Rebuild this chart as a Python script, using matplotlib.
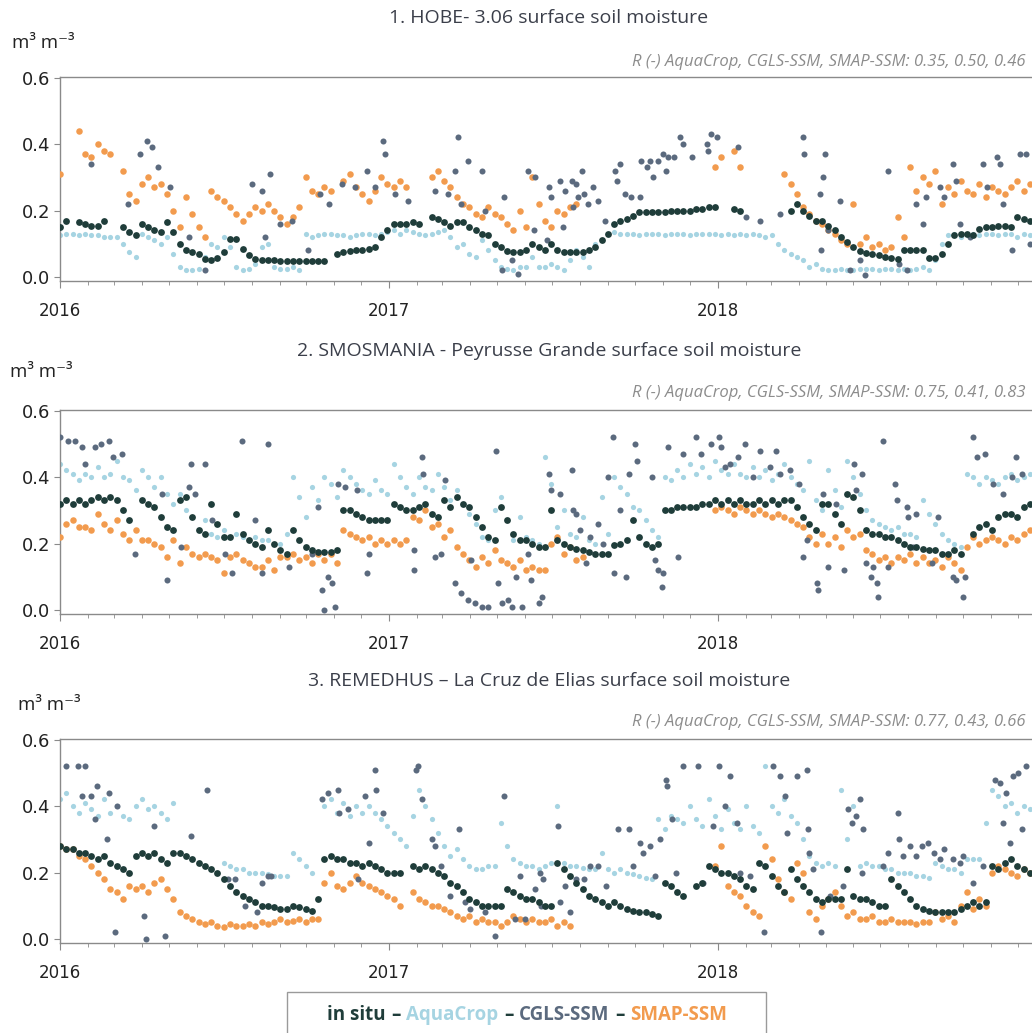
import numpy as np
import pandas as pd
import matplotlib
matplotlib.use('Agg')
import matplotlib.pyplot as plt
import matplotlib.dates as mdates
from matplotlib.offsetbox import TextArea, HPacker, AnchoredOffsetbox
from matplotlib.patches import Rectangle

nan = np.nan

# weekly samples, starting 2016-01-01
weeks = pd.date_range('2016-01-01', periods=155, freq='7D')
start = pd.Timestamp('2016-01-01')

# ---------- 1. HOBE ----------
p1_insitu = [0.15, 0.17, nan, 0.165, 0.16, 0.155, 0.155, 0.17, nan, nan,
             0.15, 0.135, 0.125, 0.16, 0.15, 0.14, 0.135, 0.165, 0.135, 0.10,
             0.08, 0.075, 0.07, 0.055, 0.05, 0.056, 0.075, 0.115, 0.115, 0.085,
             0.065, 0.055, 0.052, 0.05, 0.05, 0.048, 0.048, 0.048, 0.048, 0.048,
             0.048, 0.048, 0.048, nan, 0.07, 0.075, 0.078, 0.08, 0.082, 0.085,
             0.09, 0.12, 0.14, 0.16, 0.16, 0.16, 0.165, 0.16, nan, 0.18,
             0.175, 0.165, 0.155, 0.165, 0.165, 0.15, 0.14, 0.13, 0.125, 0.10,
             0.09, 0.078, 0.075, 0.075, 0.08, 0.10, 0.09, 0.08, 0.10, 0.08,
             0.075, 0.075, 0.075, 0.075, 0.08, 0.09, 0.11, 0.13, 0.16, 0.17,
             0.175, 0.185, 0.195, 0.195, 0.195, 0.195, 0.195, 0.20, 0.20, 0.20,
             0.20, 0.205, 0.205, 0.21, 0.21, nan, nan, 0.205, 0.20, nan,
             nan, nan, nan, nan, nan, nan, 0.20, 0.22, 0.20, 0.185,
             0.17, 0.17, 0.155, 0.14, 0.12, 0.105, 0.09, 0.078, 0.072, 0.07,
             0.065, 0.06, 0.057, 0.055, 0.08, 0.08, 0.08, 0.08, 0.058, 0.058,
             0.07, 0.10, 0.125, 0.13, 0.13, 0.125, 0.145, 0.15, 0.15, 0.155,
             0.155, 0.15, 0.18, 0.175, 0.17]
p1_aqua = [0.125, 0.13, 0.13, 0.125, 0.13, 0.125, 0.125, 0.12, 0.12, 0.12,
           0.10, 0.075, 0.06, 0.13, 0.12, 0.11, 0.10, 0.12, 0.07, 0.03,
           0.02, 0.02, 0.025, 0.06, 0.10, 0.09, 0.12, 0.09, 0.03, 0.02,
           0.025, 0.04, 0.09, 0.10, 0.03, 0.025, 0.025, 0.03, 0.02, 0.13,
           0.12, 0.125, 0.13, 0.13, 0.125, 0.125, 0.12, 0.125, 0.13, 0.13,
           0.125, 0.13, 0.135, 0.14, 0.13, 0.14, 0.135, 0.13, 0.125, 0.13,
           0.135, 0.14, 0.12, 0.09, 0.10, 0.07, 0.06, 0.11, 0.08, 0.05,
           0.03, 0.025, 0.02, 0.03, 0.03, 0.06, 0.03, 0.03, 0.04, 0.03,
           0.02, 0.05, 0.08, 0.06, 0.03, 0.10, 0.11, 0.13, 0.135, 0.13,
           0.13, 0.13, 0.125, 0.13, 0.13, 0.13, 0.125, 0.13, 0.13, 0.13,
           0.125, 0.13, 0.13, 0.13, 0.13, 0.125, 0.13, 0.125, 0.13, 0.125,
           0.13, 0.125, 0.12, 0.125, 0.10, 0.08, 0.07, 0.06, 0.05, 0.03,
           0.04, 0.025, 0.02, 0.02, 0.025, 0.02, 0.02, 0.025, 0.025, 0.025,
           0.02, 0.025, 0.025, 0.02, 0.025, 0.02, 0.025, 0.03, 0.02, 0.05,
           0.10, 0.125, 0.13, 0.12, 0.13, 0.13, 0.125, 0.13, 0.13, 0.125,
           0.13, 0.13, 0.12, 0.13, 0.125]
p1_smap = [0.31, nan, nan, 0.44, 0.37, 0.36, 0.40, 0.38, 0.37, nan,
           0.32, 0.25, 0.23, 0.28, 0.30, 0.27, 0.28, 0.25, 0.20, 0.15,
           0.24, 0.19, 0.15, 0.12, 0.26, 0.24, 0.23, 0.21, 0.19, 0.17,
           0.19, 0.21, 0.20, 0.22, 0.20, 0.18, 0.16, 0.18, 0.21, 0.30,
           0.26, 0.25, 0.27, 0.26, nan, 0.29, 0.31, 0.27, 0.25, 0.23,
           0.26, 0.30, 0.28, 0.27, 0.29, 0.27, nan, nan, nan, 0.30,
           0.32, 0.29, 0.27, 0.24, 0.22, 0.21, 0.19, 0.18, 0.21, 0.19,
           0.18, 0.16, 0.14, 0.20, 0.15, 0.30, 0.22, 0.17, 0.15, 0.20,
           0.19, 0.21, 0.22, nan, nan, nan, nan, nan, nan, nan,
           nan, nan, nan, nan, nan, nan, nan, nan, nan, nan,
           nan, nan, nan, nan, 0.33, 0.36, nan, 0.38, 0.33, nan,
           nan, nan, nan, nan, nan, 0.31, 0.28, 0.25, 0.21, 0.19,
           0.17, 0.16, 0.14, 0.13, 0.11, 0.10, 0.22, 0.10, 0.12, 0.09,
           0.10, 0.08, 0.09, 0.18, 0.12, 0.33, 0.26, 0.30, 0.28, 0.32,
           0.22, 0.27, 0.25, 0.29, 0.26, 0.25, 0.28, 0.24, 0.27, 0.26,
           0.25, 0.27, 0.29, 0.26, 0.28]
p1_cgls_day = [35, 76, 89, 97, 102, 109, 122, 143, 161, 213, 224, 228, 233, 244,
               258, 276, 289, 299, 313, 328, 341, 350, 359, 361, 372, 387, 417,
               431, 439, 442, 446, 454, 469, 472, 491, 494, 502, 509, 520, 527,
               528, 541, 543, 546, 556, 559, 561, 569, 570, 574, 576, 580, 582,
               587, 593, 598, 606, 617, 619, 622, 628, 635, 645, 646, 652, 656,
               659, 665, 670, 674, 676, 682, 689, 693, 702, 719, 720, 724, 730,
               754, 763, 778, 800, 826, 827, 845, 846, 848, 850, 854, 867, 878,
               889, 895, 920, 933, 941, 952, 959, 963, 978, 983, 993, 996, 1000,
               1011, 1026, 1030, 1041, 1045, 1048, 1058, 1067, 1074, 1078]
p1_cgls = [0.34, 0.22, 0.37, 0.41, 0.39, 0.33, 0.27, 0.12, 0.02, 0.28, 0.26, 0.12,
           0.31, 0.16, 0.17, 0.08, 0.25, 0.22, 0.28, 0.27, 0.32, 0.27, 0.41, 0.37,
           0.25, 0.23, 0.26, 0.25, 0.32, 0.42, 0.22, 0.35, 0.32, 0.20, 0.02, 0.24,
           0.05, 0.01, 0.32, 0.14, 0.30, 0.11, 0.27, 0.24, 0.29, 0.15, 0.26, 0.29,
           0.21, 0.28, 0.24, 0.32, 0.25, 0.22, 0.27, 0.23, 0.17, 0.32, 0.29, 0.34,
           0.25, 0.24, 0.24, 0.35, 0.33, 0.35, 0.30, 0.35, 0.37, 0.32, 0.36, 0.36,
           0.42, 0.40, 0.36, 0.40, 0.38, 0.43, 0.42, 0.39, 0.18, 0.17, 0.19, 0.42,
           0.37, 0.25, 0.08, 0.30, 0.37, 0.14, 0.23, 0.02, 0.05, 0.005, 0.32, 0.04,
           0.02, 0.22, 0.16, 0.24, 0.27, 0.24, 0.34, 0.29, 0.16, 0.12, 0.34, 0.27,
           0.36, 0.34, 0.22, 0.08, 0.37, 0.37, 0.10]

# ---------- 2. SMOSMANIA ----------
p2_insitu = [0.32, 0.33, 0.32, 0.33, 0.32, 0.33, 0.34, 0.33, 0.34, 0.33,
             0.30, 0.27, nan, 0.33, 0.32, 0.31, 0.28, 0.25, 0.24, 0.33,
             0.34, 0.28, 0.24, 0.23, 0.32, 0.26, 0.22, 0.22, 0.29, 0.23,
             0.21, 0.20, 0.19, 0.24, 0.20, 0.18, 0.17, 0.24, 0.21, 0.19,
             0.18, 0.175, 0.175, 0.175, 0.18, 0.30, 0.30, 0.29, 0.28, 0.27,
             0.27, 0.27, 0.27, 0.32, 0.31, 0.30, 0.30, 0.31, 0.32, 0.29,
             0.28, 0.33, 0.31, 0.34, 0.32, 0.31, 0.28, 0.25, 0.22, 0.21,
             0.31, 0.27, 0.23, 0.21, 0.21, 0.20, 0.19, 0.19, 0.30, 0.21,
             0.20, 0.19, 0.185, 0.18, 0.175, 0.17, 0.17, 0.17, 0.195, 0.20,
             0.21, 0.27, 0.22, 0.20, 0.19, 0.20, 0.30, 0.30, 0.31, 0.31,
             0.31, 0.31, 0.32, 0.32, 0.33, 0.32, 0.33, 0.32, 0.33, 0.32,
             0.32, 0.33, 0.32, 0.33, 0.32, 0.33, 0.33, 0.31, 0.28, 0.26,
             0.24, 0.32, 0.32, 0.29, 0.26, 0.35, 0.34, 0.30, 0.24, 0.23,
             0.23, 0.22, 0.22, 0.21, 0.20, 0.19, 0.19, 0.185, 0.18, 0.18,
             0.17, 0.17, 0.18, 0.17, nan, 0.23, 0.25, 0.26, 0.24, 0.28,
             0.29, 0.29, 0.28, 0.31, 0.32]
p2_aqua = [0.44, 0.42, 0.41, 0.39, 0.41, 0.40, 0.43, 0.40, 0.41, 0.45,
           0.40, 0.39, 0.36, 0.42, 0.40, 0.37, 0.40, 0.35, 0.32, 0.35,
           0.30, 0.28, 0.24, 0.27, 0.23, 0.22, 0.24, 0.22, 0.23, 0.22,
           0.21, 0.22, 0.21, 0.21, 0.20, 0.20, 0.23, 0.40, 0.34, 0.28,
           0.37, 0.33, 0.40, 0.38, 0.34, 0.42, 0.40, 0.38, 0.36, 0.35,
           0.39, 0.36, 0.35, 0.44, 0.40, 0.37, 0.35, 0.40, 0.37, 0.36,
           0.41, 0.37, 0.33, 0.36, 0.32, 0.29, 0.26, 0.22, 0.21, 0.30,
           0.34, 0.27, 0.21, 0.28, 0.22, 0.21, 0.20, 0.46, 0.38, 0.25,
           0.30, 0.23, 0.22, 0.28, 0.21, 0.20, 0.34, 0.23, 0.40, 0.37,
           0.35, 0.31, 0.30, 0.27, 0.24, 0.22, 0.40, 0.39, 0.42, 0.40,
           0.44, 0.41, 0.43, 0.40, 0.45, 0.42, 0.41, 0.44, 0.41, 0.40,
           0.43, 0.40, 0.42, 0.39, 0.41, 0.44, 0.40, 0.38, 0.36, 0.45,
           0.33, 0.30, 0.42, 0.36, 0.31, 0.45, 0.40, 0.35, 0.30, 0.27,
           0.26, 0.25, 0.24, 0.25, 0.23, 0.23, 0.22, 0.33, 0.29, 0.26,
           0.23, 0.21, 0.20, 0.19, 0.41, 0.40, 0.38, 0.40, 0.39, 0.38,
           0.40, 0.41, 0.39, 0.40, 0.41]
p2_smap = [0.22, 0.26, 0.27, 0.25, 0.25, 0.24, 0.29, 0.26, 0.24, 0.27,
           0.23, 0.21, 0.24, 0.21, 0.21, 0.20, 0.19, 0.16, 0.21, 0.14,
           0.19, 0.17, 0.16, 0.17, 0.16, 0.15, 0.11, 0.16, 0.17, 0.15,
           0.14, 0.13, 0.13, 0.15, 0.12, 0.16, 0.16, 0.17, 0.15, 0.16,
           0.14, 0.17, 0.15, 0.17, 0.14, 0.24, 0.23, 0.22, 0.21, 0.22,
           0.20, 0.21, 0.20, 0.21, 0.20, 0.21, 0.28, 0.27, 0.30, 0.25,
           0.26, 0.22, 0.24, 0.19, 0.17, 0.15, 0.13, 0.16, 0.14, 0.18,
           0.15, 0.14, 0.13, 0.15, 0.12, 0.13, 0.12, 0.12, 0.20, 0.22,
           0.17, 0.19, 0.15, 0.16, nan, nan, nan, nan, nan, nan,
           nan, nan, nan, nan, nan, nan, nan, nan, nan, nan,
           nan, nan, nan, nan, 0.30, 0.31, 0.30, 0.29, 0.31, 0.30,
           0.29, 0.30, 0.29, 0.28, 0.29, 0.28, 0.27, 0.26, 0.25, 0.22,
           0.20, 0.23, 0.20, 0.22, 0.19, 0.24, 0.22, 0.23, 0.18, 0.17,
           0.15, 0.16, 0.14, 0.16, 0.15, 0.17, 0.14, 0.16, 0.14, 0.15,
           0.13, 0.16, 0.14, 0.12, 0.19, 0.22, 0.20, 0.21, 0.22, 0.21,
           0.20, 0.22, 0.21, 0.23, 0.24]
p2_cgls_day = [0, 9, 17, 24, 28, 39, 46, 54, 59, 69, 83, 113, 119, 135, 143, 146,
               150, 161, 169, 183, 191, 202, 217, 224, 231, 254, 280, 287, 291,
               294, 298, 302, 306, 309, 317, 330, 341, 344, 393, 394, 402, 403,
               417, 424, 428, 439, 446, 454, 457, 461, 469, 476, 485, 487, 491,
               498, 502, 507, 513, 520, 524, 532, 536, 543, 546, 556, 569, 570,
               574, 578, 585, 589, 598, 604, 609, 615, 616, 622, 629, 632, 639,
               641, 658, 661, 665, 669, 670, 676, 687, 693, 707, 713, 724, 732,
               735, 739, 745, 754, 761, 770, 778, 789, 796, 800, 811, 822, 826,
               830, 841, 843, 848, 854, 863, 872, 883, 885, 891, 896, 902, 904,
               908, 909, 915, 920, 928, 930, 941, 943, 948, 952, 969, 976, 993,
               996, 1004, 1006, 1015, 1019, 1028, 1037, 1048, 1058, 1063, 1069]
p2_cgls = [0.52, 0.51, 0.51, 0.49, 0.44, 0.49, 0.50, 0.51, 0.46, 0.47, 0.17, 0.35,
           0.09, 0.19, 0.37, 0.44, 0.35, 0.44, 0.27, 0.17, 0.11, 0.51, 0.27, 0.11,
           0.50, 0.13, 0.17, 0.31, 0.06, 0.00, 0.10, 0.08, 0.01, 0.38, 0.37, 0.36,
           0.11, 0.17, 0.12, 0.18, 0.46, 0.41, 0.16, 0.17, 0.39, 0.08, 0.05, 0.03,
           0.15, 0.02, 0.01, 0.01, 0.48, 0.08, 0.02, 0.03, 0.01, 0.10, 0.01, 0.17,
           0.09, 0.02, 0.04, 0.41, 0.36, 0.35, 0.42, 0.30, 0.29, 0.24, 0.14, 0.22,
           0.26, 0.20, 0.40, 0.52, 0.11, 0.30, 0.10, 0.41, 0.50, 0.45, 0.40, 0.15,
           0.12, 0.07, 0.11, 0.49, 0.16, 0.47, 0.52, 0.47, 0.50, 0.52, 0.49, 0.43,
           0.44, 0.46, 0.50, 0.40, 0.48, 0.43, 0.48, 0.41, 0.42, 0.38, 0.16, 0.21,
           0.08, 0.06, 0.35, 0.13, 0.32, 0.12, 0.44, 0.36, 0.41, 0.14, 0.10, 0.13,
           0.08, 0.04, 0.51, 0.13, 0.38, 0.33, 0.31, 0.28, 0.19, 0.29, 0.14, 0.28,
           0.10, 0.09, 0.04, 0.10, 0.52, 0.46, 0.47, 0.38, 0.35, 0.40, 0.46, 0.41]

# ---------- 3. REMEDHUS ----------
p3_insitu = [0.28, 0.27, 0.27, 0.26, 0.26, 0.25, 0.24, 0.25, 0.23, 0.22,
             0.21, 0.20, 0.25, 0.26, 0.25, 0.26, 0.24, 0.23, 0.26, 0.26,
             0.25, 0.24, 0.23, 0.22, 0.21, 0.20, 0.18, 0.16, 0.14, 0.13,
             0.12, 0.11, 0.10, 0.10, 0.095, 0.09, 0.09, 0.10, 0.095, 0.09,
             0.085, 0.12, 0.24, 0.25, 0.24, 0.24, 0.23, 0.23, 0.22, 0.23,
             0.22, 0.21, 0.20, 0.20, 0.20, nan, 0.22, 0.21, 0.22, 0.21,
             0.20, 0.19, 0.17, 0.16, 0.14, 0.12, 0.11, 0.10, 0.10, 0.10,
             0.10, 0.15, 0.14, 0.13, 0.12, 0.12, 0.11, 0.10, 0.10, 0.23,
             0.21, 0.19, 0.17, 0.15, 0.13, 0.12, 0.11, 0.10, 0.11, 0.10,
             0.09, 0.085, 0.08, 0.08, 0.075, 0.07, 0.17, 0.16, 0.14, 0.13,
             nan, 0.16, 0.17, 0.22, 0.21, 0.20, 0.20, 0.19, 0.18, 0.16,
             0.15, 0.23, 0.22, 0.19, 0.16, 0.14, 0.21, 0.18, 0.16, 0.14,
             0.12, 0.11, 0.12, 0.12, 0.12, 0.21, 0.13, 0.12, 0.12, 0.11,
             0.10, 0.10, 0.18, 0.16, 0.14, 0.12, 0.10, 0.09, 0.085, 0.08,
             0.08, 0.08, 0.08, 0.09, 0.10, 0.11, 0.10, 0.11, 0.22, 0.21,
             0.23, 0.24, 0.22, 0.21, 0.20]
p3_aqua = [0.42, 0.44, 0.40, 0.38, 0.41, 0.39, 0.37, 0.42, 0.38, 0.40,
           0.37, 0.36, 0.40, 0.42, 0.39, 0.40, 0.38, 0.36, 0.41, 0.26,
           0.25, 0.24, 0.23, 0.22, 0.21, 0.20, 0.23, 0.22, 0.21, 0.21,
           0.20, 0.20, 0.20, 0.195, 0.19, 0.19, 0.19, 0.26, 0.24, 0.22,
           0.20, nan, 0.40, 0.42, 0.38, 0.41, 0.37, 0.40, 0.38, 0.40,
           0.38, 0.36, 0.34, 0.32, 0.30, 0.28, 0.37, 0.45, 0.40, 0.36,
           0.32, 0.28, 0.25, 0.27, 0.24, 0.22, 0.21, 0.21, 0.22, 0.22,
           0.35, 0.28, 0.24, 0.23, 0.22, 0.22, 0.21, 0.22, 0.23, 0.40,
           0.23, 0.22, 0.22, 0.215, 0.21, 0.21, 0.26, 0.21, 0.20, 0.21,
           0.20, 0.195, 0.19, 0.185, 0.18, 0.36, 0.33, 0.37, 0.36, 0.35,
           0.40, 0.36, 0.34, 0.42, 0.37, 0.33, 0.39, 0.35, 0.33, 0.40,
           0.34, 0.32, 0.52, 0.40, 0.38, 0.42, 0.37, 0.35, 0.30, 0.25,
           0.23, 0.22, 0.23, 0.22, 0.45, 0.30, 0.40, 0.22, 0.23, 0.22,
           0.22, 0.21, 0.21, 0.20, 0.20, 0.20, 0.19, 0.19, 0.185, 0.23,
           0.22, 0.21, 0.21, 0.20, 0.24, 0.24, 0.24, 0.35, 0.45, 0.43,
           0.40, 0.41, 0.38, 0.40, 0.39]
p3_smap = [0.28, 0.27, 0.27, 0.25, 0.24, 0.22, 0.20, 0.18, 0.15, 0.14,
           0.12, 0.16, 0.15, 0.16, 0.14, 0.17, 0.18, 0.15, 0.12, 0.08,
           0.07, 0.06, 0.05, 0.045, 0.05, 0.04, 0.035, 0.045, 0.04, 0.04,
           0.045, 0.04, 0.05, 0.045, 0.05, 0.06, 0.05, 0.055, 0.06, 0.05,
           0.06, 0.06, 0.17, 0.20, 0.16, 0.15, 0.17, 0.19, 0.17, 0.16,
           0.15, 0.14, 0.13, 0.12, 0.10, nan, 0.14, 0.12, 0.11, 0.10,
           0.10, 0.09, 0.08, 0.07, 0.06, 0.07, 0.05, 0.06, 0.05, 0.05,
           0.04, 0.05, 0.07, 0.06, 0.05, 0.06, 0.05, 0.05, 0.06, 0.04,
           0.05, 0.04, nan, nan, nan, nan, nan, nan, nan, nan,
           nan, nan, nan, nan, nan, nan, nan, nan, nan, nan,
           nan, nan, nan, nan, 0.22, 0.28, 0.16, 0.14, 0.13, 0.10,
           0.08, 0.07, 0.28, 0.24, 0.18, 0.14, 0.12, 0.23, 0.20, 0.08,
           0.06, 0.10, 0.12, 0.14, 0.10, 0.07, 0.08, 0.06, 0.06, 0.07,
           0.05, 0.05, 0.06, 0.05, 0.05, 0.05, 0.045, 0.05, 0.05, 0.08,
           0.06, 0.07, 0.05, 0.10, 0.14, 0.09, 0.12, 0.10, 0.20, 0.22,
           0.21, 0.20, 0.19, 0.21, 0.20]
p3_cgls_day = [7, 20, 24, 28, 35, 39, 41, 52, 54, 61, 63, 93, 96, 104, 117, 146,
               163, 187, 194, 206, 219, 224, 231, 235, 291, 298, 309, 310, 320,
               331, 339, 344, 350, 351, 359, 396, 398, 402, 413, 417, 424, 433,
               443, 450, 456, 472, 483, 494, 506, 511, 517, 528, 535, 533, 537,
               554, 556, 561, 567, 574, 582, 589, 598, 607, 620, 632, 637, 645,
               648, 656, 661, 667, 674, 675, 680, 685, 693, 709, 715, 726, 733,
               739, 745, 752, 756, 767, 782, 793, 800, 806, 808, 819, 830, 831,
               833, 837, 846, 856, 870, 876, 880, 885, 889, 891, 893, 915, 920,
               932, 933, 937, 945, 952, 958, 965, 972, 978, 983, 993, 1000, 1004,
               1015, 1026, 1039, 1045, 1048, 1052, 1056, 1059, 1065, 1069, 1074]
p3_cgls = [0.52, 0.52, 0.43, 0.52, 0.43, 0.36, 0.46, 0.30, 0.44, 0.02, 0.40, 0.07,
           0.00, 0.34, 0.01, 0.31, 0.45, 0.18, 0.18, 0.10, 0.08, 0.17, 0.19, 0.19,
           0.42, 0.44, 0.45, 0.38, 0.39, 0.18, 0.43, 0.29, 0.51, 0.45, 0.38, 0.51,
           0.52, 0.42, 0.30, 0.28, 0.22, 0.13, 0.33, 0.11, 0.09, 0.08, 0.01, 0.43,
           0.06, 0.19, 0.06, 0.15, 0.10, 0.20, 0.18, 0.34, 0.11, 0.16, 0.08, 0.18,
           0.18, 0.22, 0.22, 0.16, 0.33, 0.33, 0.22, 0.29, 0.26, 0.28, 0.19, 0.30,
           0.48, 0.46, 0.36, 0.20, 0.52, 0.52, 0.17, 0.34, 0.52, 0.40, 0.49, 0.35,
           0.20, 0.19, 0.02, 0.52, 0.49, 0.43, 0.32, 0.49, 0.51, 0.33, 0.26, 0.21,
           0.02, 0.13, 0.16, 0.39, 0.35, 0.37, 0.42, 0.20, 0.33, 0.22, 0.26, 0.38,
           0.30, 0.25, 0.28, 0.25, 0.28, 0.29, 0.26, 0.24, 0.27, 0.24, 0.23, 0.25,
           0.17, 0.22, 0.48, 0.47, 0.35, 0.44, 0.29, 0.49, 0.50, 0.33, 0.52]

titles = ['1. HOBE- 3.06 surface soil moisture',
          '2. SMOSMANIA - Peyrusse Grande surface soil moisture',
          '3. REMEDHUS \u2013 La Cruz de Elias surface soil moisture']
r_texts = ['R (-) AquaCrop, CGLS-SSM, SMAP-SSM: 0.35, 0.50, 0.46',
           'R (-) AquaCrop, CGLS-SSM, SMAP-SSM: 0.75, 0.41, 0.83',
           'R (-) AquaCrop, CGLS-SSM, SMAP-SSM: 0.77, 0.43, 0.66']
year_ticks = pd.to_datetime(['2016-01-01', '2017-01-01', '2018-01-01'])

C_INSITU = '#1f3d3a'
C_AQUA = '#a6d4e2'
C_CGLS = '#5b6a7e'
C_SMAP = '#f29b4e'
C_TEXT = '#3b3f4a'

W, H = 1032, 1033
fig = plt.figure(figsize=(W / 100, H / 100), dpi=100)

panels = [
    (p1_insitu, p1_aqua, p1_smap, p1_cgls_day, p1_cgls),
    (p2_insitu, p2_aqua, p2_smap, p2_cgls_day, p2_cgls),
    (p3_insitu, p3_aqua, p3_smap, p3_cgls_day, p3_cgls),
]
ax_bottom_px = [281, 614, 943]
title_y = [18, 351, 681]
unit_xy = [(12, 43), (10, 372), (18, 705)]
r_y = [62, 393, 722]

for k, (insitu, aqua, smap, cday, cgls) in enumerate(panels):
    ax = fig.add_axes([60 / W, 1 - ax_bottom_px[k] / H, 986 / W, 204 / H])
    cdates = start + pd.to_timedelta(cday, unit='D')
    ax.scatter(weeks, aqua, s=14, color=C_AQUA, linewidths=0, zorder=2)
    ax.scatter(weeks, smap, s=22, color=C_SMAP, linewidths=0, zorder=3)
    ax.scatter(cdates, cgls, s=19, color=C_CGLS, linewidths=0, zorder=4)
    ax.scatter(weeks, insitu, s=24, color=C_INSITU, linewidths=0, zorder=5)

    ax.set_xlim(pd.Timestamp('2016-01-01'), pd.Timestamp('2019-01-01'))
    ax.set_ylim(-0.012, 0.602)
    ax.set_yticks([0.0, 0.2, 0.4, 0.6])
    ax.yaxis.set_major_formatter('{x:.1f}')
    ax.set_xticks(year_ticks)
    ax.xaxis.set_major_formatter(mdates.DateFormatter('%Y'))
    ax.xaxis.set_minor_locator(mdates.MonthLocator())
    for side in ['top', 'left', 'bottom']:
        ax.spines[side].set_color('#8a8a8a')
        ax.spines[side].set_linewidth(1.0)
    ax.spines['right'].set_visible(False)
    ax.tick_params(axis='y', labelsize=13, length=4, pad=3, colors='#8a8a8a',
                   labelcolor='#222222')
    ax.tick_params(axis='x', which='major', labelsize=12, length=5, pad=10,
                   colors='#8a8a8a', labelcolor='#222222')
    ax.tick_params(axis='x', which='minor', length=3, colors='#8a8a8a')

    fig.text(549 / W, 1 - title_y[k] / H, titles[k], ha='center', va='center',
             fontsize=14, family='Open Sans', color=C_TEXT)
    fig.text(unit_xy[k][0] / W, 1 - unit_xy[k][1] / H, 'm\u00b3 m\u207b\u00b3',
             ha='left', va='center', fontsize=13.5,
             family=['Open Sans', 'DejaVu Sans'], color='#222222')
    fig.text(1025 / W, 1 - r_y[k] / H, r_texts[k], ha='right', va='center',
             fontsize=12, family='Open Sans', style='italic', color='#8c8c8c')

# legend box, cut by the bottom edge like the original
fig.add_artist(Rectangle((287 / W, 1 - 1045 / H), 479 / W, 53 / H,
                         transform=fig.transFigure, facecolor='white',
                         edgecolor='#9a9a9a', linewidth=1.0))
dark = dict(color=C_INSITU, fontweight='bold', fontsize=13.5, family='Open Sans')
pieces = [('in situ', C_INSITU), ('\u2013', C_INSITU), ('AquaCrop', C_AQUA),
          ('\u2013', C_INSITU), ('CGLS-SSM', C_CGLS), ('\u2013', C_INSITU),
          ('SMAP-SSM', C_SMAP)]
boxes = [TextArea(t, textprops=dict(dark, color=c)) for t, c in pieces]
row = HPacker(children=boxes, align='baseline', pad=0, sep=4)
leg = AnchoredOffsetbox(loc='center', child=row, frameon=False, pad=0,
                        borderpad=0, bbox_to_anchor=(527 / W, 1 - 1015 / H),
                        bbox_transform=fig.transFigure)
fig.add_artist(leg)

fig.savefig('out.png', dpi=100)
